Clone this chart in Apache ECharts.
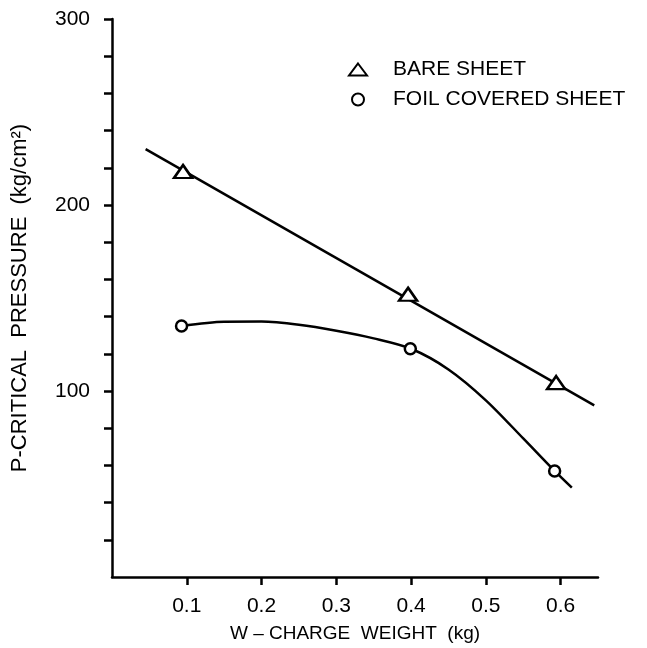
<!DOCTYPE html>
<html>
<head>
<meta charset="utf-8">
<script src="https://cdn.jsdelivr.net/npm/echarts@6/dist/echarts.min.js"></script>
<style>html,body{margin:0;padding:0;background:#fff}#c{width:647px;height:648px}</style>
</head>
<body>
<div id="c"></div>
<script>
// ---- data ----
var xTickValues = [0.1, 0.2, 0.3, 0.4, 0.5, 0.6];
var yLabelValues = [100, 200, 300];
var yTickValues = [20, 40, 60, 80, 100, 120, 140, 160, 180, 200, 220, 240, 260, 280, 300];

// measured points
var bareW = [0.095, 0.396, 0.594];
var bareP = [218, 152, 104.5];
var foilW = [0.093, 0.399, 0.592];
var foilP = [135, 122.7, 57];

// fitted lines as drawn in the reference
var bareFitW = [0.045, 0.645];
var bareFitP = [230, 92.3];
var foilFitW = [0.093, 0.15, 0.2, 0.25, 0.3, 0.35, 0.4, 0.45, 0.5, 0.55, 0.592, 0.615];
var foilFitP = [135, 137.2, 137.3, 135.6, 132.4, 128.3, 122.7, 111.6, 95, 74.5, 57, 48];

function pairs(a, b) { return a.map(function (v, i) { return [v, b[i]]; }); }

var FONT = "'Liberation Sans', Arial, sans-serif";
var chart = echarts.init(document.getElementById('c'), null, { renderer: 'canvas' });
chart.setOption({
  animation: false,
  backgroundColor: '#ffffff',
  textStyle: { fontFamily: FONT, color: '#000' },
  grid: { left: 112, right: 49, top: 19, bottom: 69, containLabel: false },
  legend: {
    orient: 'vertical',
    left: 343,
    top: 54,
    itemWidth: 18,
    itemHeight: 12,
    itemGap: 9,
    data: ['BARE SHEET', 'FOIL COVERED SHEET'],
    textStyle: { fontFamily: FONT, fontSize: 21, color: '#000', padding: [0, 0, 0, 21] },
    selectedMode: false
  },
  xAxis: {
    type: 'value',
    min: 0,
    max: 0.65,
    interval: 0.1,
    name: 'W \u2013 CHARGE  WEIGHT  (kg)',
    nameLocation: 'middle',
    nameGap: 47,
    nameTextStyle: { fontFamily: FONT, fontSize: 19, color: '#000' },
    axisLine: { show: true, onZero: false, lineStyle: { color: '#000', width: 2.5 } },
    axisTick: { show: true, inside: false, length: 8, lineStyle: { color: '#000', width: 2.5 }, customValues: xTickValues },
    axisLabel: {
      show: true, margin: 19, fontFamily: FONT, fontSize: 21, color: '#000',
      customValues: xTickValues,
      formatter: function (v) { return v.toFixed(1); }
    },
    splitLine: { show: false }
  },
  yAxis: {
    type: 'value',
    min: 0,
    max: 300,
    interval: 100,
    name: 'P-CRITICAL  PRESSURE  (kg/cm\u00b2)',
    nameLocation: 'middle',
    nameGap: 81,
    nameTextStyle: { fontFamily: FONT, fontSize: 22, color: '#000' },
    axisLine: { show: true, onZero: false, lineStyle: { color: '#000', width: 2.5 } },
    axisTick: { show: true, inside: false, length: 8, lineStyle: { color: '#000', width: 2.5 }, customValues: yTickValues },
    axisLabel: {
      show: true, margin: 22, fontFamily: FONT, fontSize: 21, color: '#000',
      customValues: yLabelValues
    },
    splitLine: { show: false }
  },
  series: [
    {
      name: 'bareFit', type: 'line', data: pairs(bareFitW, bareFitP),
      showSymbol: false, symbol: 'none', silent: true,
      lineStyle: { color: '#000', width: 2.5 }, z: 2
    },
    {
      name: 'foilFit', type: 'line', data: pairs(foilFitW, foilFitP),
      showSymbol: false, symbol: 'none', smooth: 0.3, silent: true,
      lineStyle: { color: '#000', width: 2.5 }, z: 2
    },
    {
      name: 'BARE SHEET', type: 'scatter', data: pairs(bareW, bareP),
      symbol: 'triangle', symbolSize: [18, 13],
      itemStyle: { color: '#fff', borderColor: '#000', borderWidth: 2.5, opacity: 1 }, z: 3
    },
    {
      name: 'FOIL COVERED SHEET', type: 'scatter', data: pairs(foilW, foilP),
      symbol: 'circle', symbolSize: 11,
      itemStyle: { color: '#fff', borderColor: '#000', borderWidth: 2.5, opacity: 1 }, z: 3
    }
  ]
});
</script>
</body>
</html>
